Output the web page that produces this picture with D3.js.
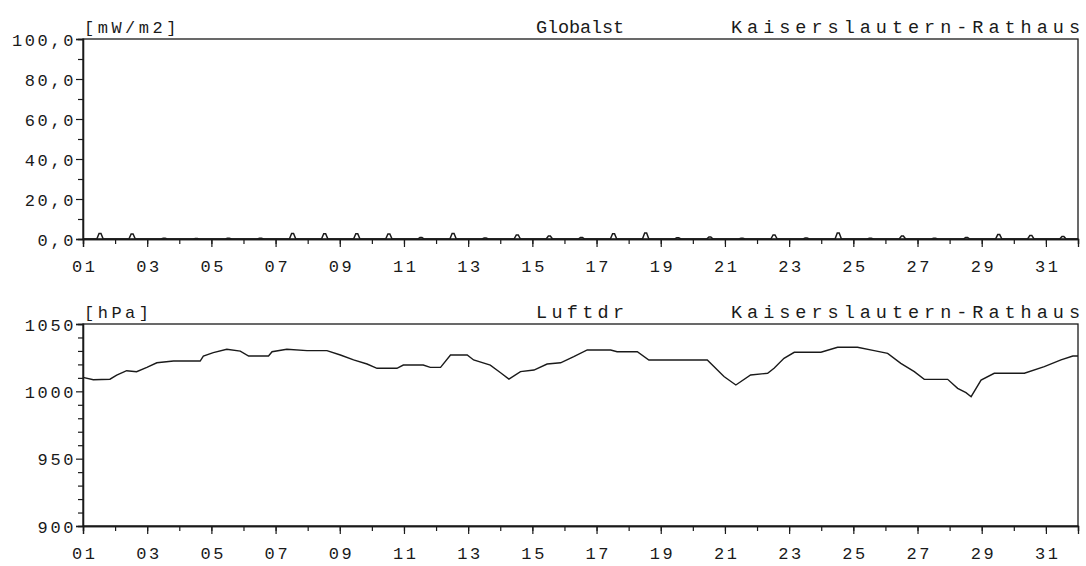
<!DOCTYPE html>
<html><head><meta charset="utf-8">
<script src="https://cdn.jsdelivr.net/npm/d3@7/dist/d3.min.js"></script>
<style>
body{margin:0;background:#fff}
text{font-family:"Liberation Mono",monospace;fill:#1a1a1a}
</style>
</head><body><svg id="c" width="1086" height="566"></svg>
<script>
// ---- data ----
const stationName = "Kaiserslautern-Rathaus";
const radTitle = "Globalst";
const radUnit = "[mW/m2]";
const presTitle = "Luftdr";
const presUnit = "[hPa]";

const dayTicks = [1,2,3,4,5,6,7,8,9,10,11,12,13,14,15,16,17,18,19,20,21,22,23,24,25,26,27,28,29,30,31,32];
const dayLabels = [1,3,5,7,9,11,13,15,17,19,21,23,25,27,29,31];

const radTicksMajor = [0,20,40,60,80,100];
const radTicksMinor = [10,30,50,70,90];
const presTicksMajor = [900,950,1000,1050];
const presTicksMinor = [910,920,930,940,960,970,980,990,1010,1020,1030,1040];

// global radiation: midday peak per day (days 1..31)
const radDays = [1,2,3,4,5,6,7,8,9,10,11,12,13,14,15,16,17,18,19,20,21,22,23,24,25,26,27,28,29,30,31];
const radPeak = [2.8,2.5,0.4,0.3,0.4,0.4,2.8,2.6,2.6,2.5,0.8,2.8,0.5,2.0,1.5,0.8,2.6,3.0,0.6,1.0,0.4,2.0,0.5,3.0,0.4,1.5,0.4,0.8,2.2,1.8,1.2];

// air pressure (time in days, value in hPa)
const presTime = [1.00,1.32,1.84,2.05,2.36,2.67,2.99,3.30,3.82,4.65,4.75,5.06,5.48,5.90,6.16,6.78,6.89,7.35,7.98,8.60,9.02,9.43,9.85,10.16,10.78,10.98,11.60,11.82,12.14,12.45,12.97,13.17,13.69,14.01,14.27,14.63,15.05,15.46,15.88,16.29,16.71,17.44,17.64,18.27,18.63,20.45,20.97,21.34,21.80,22.33,22.53,22.84,23.16,23.99,24.51,25.13,25.65,26.07,26.48,26.90,27.21,27.94,28.25,28.51,28.67,28.98,29.39,30.33,30.95,31.47,31.84,32.00];
const presValue = [1010.4,1008.6,1009.0,1012.0,1015.3,1014.6,1017.8,1021.2,1022.5,1022.5,1026.2,1028.7,1031.2,1029.9,1026.2,1026.2,1029.4,1031.2,1030.2,1030.2,1027.0,1023.3,1020.3,1017.1,1017.1,1019.5,1019.5,1017.8,1017.8,1027.0,1027.0,1023.3,1019.5,1013.8,1009.1,1014.6,1015.8,1020.3,1021.2,1025.7,1030.7,1030.7,1029.4,1029.4,1023.3,1023.3,1011.0,1004.7,1012.1,1013.4,1017.1,1024.5,1029.0,1029.0,1032.7,1032.7,1030.2,1028.2,1020.8,1014.6,1008.9,1008.9,1002.2,999.0,996.0,1008.4,1013.4,1013.4,1018.3,1023.3,1026.2,1026.2];

// ---- layout ----
const svg = d3.select("#c");
const X0 = 83, X1 = 1078;
const x = d3.scaleLinear().domain([1,32]).range([X0,X1]);
const ink = "#1a1a1a";

const panels = [
  {top:39, bottom:239, domain:[0,100], major:radTicksMajor, minor:radTicksMinor,
   fmt:d=>d3.format(".1f")(d).replace(".",","), unit:radUnit, title:radTitle},
  {top:324, bottom:526, domain:[900,1050], major:presTicksMajor, minor:presTicksMinor,
   fmt:d=>String(d), unit:presUnit, title:presTitle}
];

panels.forEach((p,i)=>{
  const y = d3.scaleLinear().domain(p.domain).range([p.bottom,p.top]);
  p.y = y;
  const g = svg.append("g");
  g.append("rect").attr("x",X0).attr("y",p.top).attr("width",X1-X0).attr("height",p.bottom-p.top)
    .attr("fill","none").attr("stroke",ink).attr("stroke-width",1.3);

  const ya = g.append("g").attr("transform",`translate(${X0},0)`)
    .call(d3.axisLeft(y).tickValues(p.major).tickSize(7).tickPadding(0).tickFormat(p.fmt));
  const ym = g.append("g").attr("transform",`translate(${X0},0)`)
    .call(d3.axisLeft(y).tickValues(p.minor).tickSize(5).tickFormat(""));
  const xa = g.append("g").attr("transform",`translate(0,${p.bottom})`)
    .call(d3.axisBottom(x).tickValues(dayLabels).tickSize(8).tickPadding(13)
      .tickFormat(d=>String(d).padStart(2,"0")));
  const xm = g.append("g").attr("transform",`translate(0,${p.bottom})`)
    .call(d3.axisBottom(x).tickValues(dayTicks).tickSize(5).tickFormat(""));

  [ya,ym,xa,xm].forEach(a=>{
    a.select(".domain").attr("stroke",ink).attr("stroke-width",1.3);
    a.selectAll(".tick line").attr("stroke",ink).attr("stroke-width",1.2);
    a.selectAll(".tick text").attr("font-family","Liberation Mono").attr("font-size",17)
      .attr("letter-spacing","2.6px").attr("fill",ink);
  });
  ya.selectAll(".tick text").attr("dy","0.36em");
  xa.selectAll(".tick text").attr("dx","1.3px");

  g.append("text").attr("x",X0+1).attr("y",p.top-6).attr("font-size",17)
    .attr("letter-spacing","3.5px").text(p.unit);
  g.append("text").attr("x",536).attr("y",p.top-6).attr("font-size",18.5)
    .attr("textLength",88).attr("lengthAdjust","spacing").text(p.title);
  g.append("text").attr("x",731).attr("y",p.top-6).attr("font-size",18.5)
    .attr("textLength",349).attr("lengthAdjust","spacing").text(stationName);
});

// radiation series: baseline with small midday bumps
const radPts = [[1,0]];
radDays.forEach((d,i)=>{
  radPts.push([d+0.43,0],[d+0.50,radPeak[i]],[d+0.56,radPeak[i]],[d+0.63,0]);
});
radPts.push([32,0]);
const y0 = panels[0].y;
svg.append("path").datum(radPts)
  .attr("fill","none").attr("stroke",ink).attr("stroke-width",1.5)
  .attr("d", d3.line().x(d=>x(d[0])).y(d=>y0(d[1])));

// pressure series
const y1 = panels[1].y;
const presData = presTime.map((t,i)=>[t,presValue[i]]);
svg.append("path").datum(presData)
  .attr("fill","none").attr("stroke",ink).attr("stroke-width",1.4)
  .attr("d", d3.line().x(d=>x(d[0])).y(d=>y1(d[1])));
</script>
</body></html>
